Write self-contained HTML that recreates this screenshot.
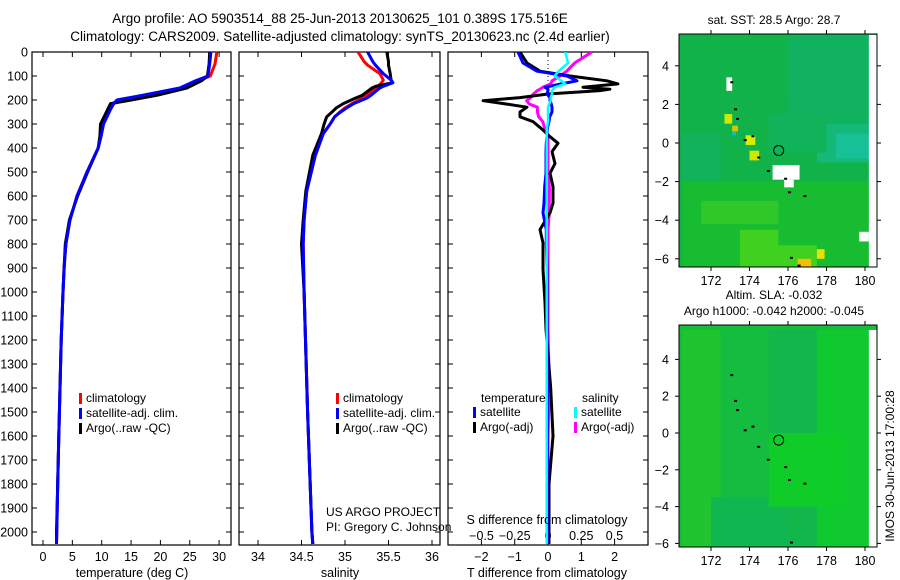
<!DOCTYPE html>
<html><head><meta charset="utf-8"><style>
body{margin:0;background:#fff}
svg{display:block;font-family:"Liberation Sans",sans-serif}
text{fill:#000}
</style></head><body>
<svg id="fig" width="900" height="580" viewBox="0 0 900 580" xmlns="http://www.w3.org/2000/svg">
<text x="340" y="23" font-size="13.5" text-anchor="middle">Argo profile: AO 5903514_88 25-Jun-2013 20130625_101 0.389S 175.516E</text>
<text x="340" y="41" font-size="13.5" text-anchor="middle">Climatology: CARS2009. Satellite-adjusted climatology: synTS_20130623.nc (2.4d earlier)</text>
<g id="plots"></g>
</svg>
<script>
// ---------- data ----------
const tDepth=[0,50,100,120,150,180,200,215,250,300,350,400,500,600,700,800,900,1000,1200,1400,1600,1800,2000,2050];
const tClim=[29.6,29.3,28.5,26.5,23.5,17.5,12.8,12.1,11.2,10.3,9.9,9.4,7.5,5.8,4.6,3.9,3.6,3.4,3.1,2.9,2.7,2.5,2.35,2.3];
const tSat=[28.6,28.4,28.1,26,23.3,17,12.6,12,11.3,10.3,9.9,9.4,7.5,5.8,4.6,3.9,3.6,3.4,3.1,2.9,2.7,2.5,2.35,2.3];
const tArgo=[28.4,28.3,28,27,24.5,19.5,15,11.5,10.8,9.8,9.7,9.4,7.6,5.9,4.5,3.8,3.6,3.4,3.1,2.9,2.7,2.5,2.3,2.3];

const sDepth=[0,40,55,90,117,128,143,150,180,192,215,233,250,270,300,340,430,580,700,800,1000,1500,2000,2050];
const sClim=[35.15,35.22,35.26,35.40,35.44,35.42,35.38,35.36,35.25,35.2,35.08,35.0,34.94,34.88,34.83,34.75,34.66,34.56,34.53,34.52,34.53,34.57,34.62,34.63];
const sSat=[35.26,35.32,35.35,35.44,35.53,35.55,35.44,35.4,35.3,35.25,35.1,35.02,34.95,34.88,34.83,34.75,34.66,34.56,34.53,34.52,34.53,34.57,34.62,34.63];
const sArgo=[35.48,35.5,35.5,35.52,35.53,35.55,35.35,35.31,35.2,35.12,34.98,34.9,34.85,34.79,34.76,34.73,34.63,34.55,34.52,34.50,34.53,34.57,34.62,34.63];

const dDepth=[0,46,80,100,120,133,147,155,161,175,190,203,217,230,250,270,290,325,353,380,415,465,505,560,630,670,740,795,905,1044,1155,1400,1600,1800,2050];
const dTArgo=[-0.84,-0.63,-0.24,0.66,1.77,2.1,1.05,1.86,1.56,0,-0.84,-1.95,-1.23,-0.63,-0.84,-0.84,-0.45,-0.15,0.06,0.3,0.12,0.21,0.06,0.15,0.15,0.06,-0.24,-0.15,-0.15,-0.09,-0.06,0.08,0.15,0.03,0.03];
const dTSat=[-0.9,-0.75,-0.33,0.57,0.87,0.4,-0.09,0,0,-0.03,0.06,0.06,0.1,0.12,0.12,0.05,0.03,-0.03,-0.03,-0.05,-0.06,-0.06,-0.06,-0.1,-0.12,-0.15,-0.05,-0.05,-0.03,-0.03,-0.03,-0.02,-0.02,-0.02,-0.02];
const dSArgo=[0.33,0.2,0.14,0.09,0.03,0.02,-0.04,-0.06,-0.08,-0.11,-0.13,-0.16,-0.14,-0.08,-0.08,-0.07,-0.04,-0.02,0,0,0,0,0,0.01,0.01,0.01,0,0,0,0,0,0.01,0,0,0];
const dSSat=[0.13,0.15,0.08,0.05,0.1,0.13,0.05,0.04,0.03,0.03,0.02,0.02,0.01,0,0,0,0,-0.01,-0.01,-0.01,-0.01,-0.01,-0.01,-0.01,-0.01,-0.01,-0.01,-0.01,-0.01,-0.01,-0.01,-0.01,-0.01,-0.01,-0.01];

const depthTicks=[0,100,200,300,400,500,600,700,800,900,1000,1100,1200,1300,1400,1500,1600,1700,1800,1900,2000];
const tTicks=[0,5,10,15,20,25,30];
const sTicks=[34,34.5,35,35.5,36];
const sTickLabels=["34","34.5","35","35.5","36"];
const dTTicks=[-2,-1,0,1,2];
const dSTicks=[-0.5,-0.25,0,0.25,0.5];
const dSTickLabels=["\u22120.5","\u22120.25","0","0.25","0.5"];
const dTTickLabels=["\u22122","\u22121","0","1","2"];
const lonTicks=[172,174,176,178,180];
const latTicks=[4,2,0,-2,-4,-6];
const latTickLabels=["4","2","0","\u22122","\u22124","\u22126"];

// ---------- helpers ----------
const NS="http://www.w3.org/2000/svg";
const root=document.getElementById('plots');
function mk(tag,attrs,parent){const e=document.createElementNS(NS,tag);for(const k in attrs)e.setAttribute(k,attrs[k]);(parent||root).appendChild(e);return e;}
function txt(x,y,s,size,anchor,parent){const t=mk('text',{x:x,y:y,'font-size':size||12,'text-anchor':anchor||'middle'},parent);t.textContent=s;return t;}
const yD=d=>52+d*0.24;
const P1={x0:32,x1:231},P2={x0:239,x1:440},P3={x0:448,x1:648},TOP=52,BOT=545;
const xT=t=>43+t*5.87, xS=s=>258+(s-34)*87, xDT=t=>548+t*33.3, xDS=s=>548+s*133;

function clip(id,p){const c=mk('clipPath',{id:id});mk('rect',{x:p.x0,y:TOP,width:p.x1-p.x0,height:BOT-TOP},c);}
function line(xs,ys,fx,color,w,cid,name){
  const pts=xs.map((v,i)=>fx(v).toFixed(1)+','+yD(ys[i]).toFixed(1)).join(' ');
  const l=mk('polyline',{points:pts,fill:'none',stroke:color,'stroke-width':w,'stroke-linejoin':'round','clip-path':'url(#'+cid+')'});
  
  
  return l;
}
function frame(p,name){
  const r=mk('rect',{x:p.x0,y:TOP,width:p.x1-p.x0,height:BOT-TOP,fill:'none',stroke:'#000','stroke-width':1.2});
  
  
  depthTicks.forEach(d=>{mk('line',{x1:p.x0,x2:p.x0+5,y1:yD(d),y2:yD(d),stroke:'#000'});mk('line',{x1:p.x1-5,x2:p.x1,y1:yD(d),y2:yD(d),stroke:'#000'});});
}
function xticks(vals,fx,labels,name){
  vals.forEach((v,i)=>{const x=fx(v);mk('line',{x1:x,x2:x,y1:TOP,y2:TOP+5,stroke:'#000'});mk('line',{x1:x,x2:x,y1:BOT-5,y2:BOT,stroke:'#000'});
    const t=txt(x,561,labels[i],12.5);
    
    });
}
mk('defs',{});
clip('c1',P1);clip('c2',P2);clip('c3',P3);

depthTicks.forEach(d=>{const t=txt(28,yD(d)+4.5,String(d),12.5,'end');
  
  });

// panel 1
frame(P1,'temperature-panel');
xticks(tTicks,xT,tTicks.map(String),'temperature-tick-label');
line(tClim,tDepth,xT,'#f00',3,'c1','temperature-climatology-line');
line(tArgo,tDepth,xT,'#000',3,'c1','temperature-argo-line');
line(tSat,tDepth,xT,'#00f',3,'c1','temperature-satellite-line');
txt(132,577,'temperature (deg C)',12.5);

// panel 2
frame(P2,'salinity-panel');
xticks(sTicks,xS,sTickLabels,'salinity-tick-label');
line(sClim,sDepth,xS,'#f00',3,'c2','salinity-climatology-line');
line(sArgo,sDepth,xS,'#000',3,'c2','salinity-argo-line');
line(sSat,sDepth,xS,'#00f',3,'c2','salinity-satellite-line');
txt(340,577,'salinity',12.5);

// panel 3
frame(P3,'difference-panel');
mk('line',{x1:548,x2:548,y1:TOP,y2:yD(200),stroke:'#000','stroke-dasharray':'1,3'});
dTTicks.forEach((v,i)=>{const x=xDT(v);mk('line',{x1:x,x2:x,y1:TOP,y2:TOP+5,stroke:'#000'});mk('line',{x1:x,x2:x,y1:BOT-5,y2:BOT,stroke:'#000'});
  const t=txt(x,561,dTTickLabels[i],12.5);
  
  });
dSTicks.forEach((v,i)=>{const t=txt(xDS(v),540,dSTickLabels[i],12.5);
  
  });
line(dSArgo,dDepth,xDS,'#f0f',3,'c3','s-difference-argo-line');
line(dTArgo,dDepth,xDT,'#000',3,'c3','t-difference-argo-line');
line(dTSat,dDepth,xDT,'#00f',3,'c3','t-difference-satellite-line');
line(dSSat,dDepth,xDS,'#0ff',2.5,'c3','s-difference-satellite-line');
txt(547,524,'S difference from climatology',12.5);
txt(547,577,'T difference from climatology',12.5);

function leg(x,y,color,label,name){const m=mk('rect',{x:x,y:y-9,width:3,height:11,fill:color});
  
  
  const t=txt(x+7,y,label,12,'start');
  
  }
leg(79,402,'#f00','climatology','legend-climatology');
leg(79,417,'#00f','satellite-adj. clim.','legend-satellite');
leg(79,432,'#000','Argo(..raw -QC)','legend-argo');
leg(336,402,'#f00','climatology','legend2-climatology');
leg(336,417,'#00f','satellite-adj. clim.','legend2-satellite');
leg(336,432,'#000','Argo(..raw -QC)','legend2-argo');
txt(481,402,'temperature',12,'start');
txt(582,402,'salinity',12,'start');
leg(473,416,'#00f','satellite','legend-t-satellite');
leg(473,431,'#000','Argo(-adj)','legend-t-argo');
leg(574,416,'#0ff','satellite','legend-s-satellite');
leg(574,431,'#f0f','Argo(-adj)','legend-s-argo');
txt(326,516,'US ARGO PROJECT',12,'start');
txt(326,531,'PI: Gregory C. Johnson',12,'start');

// ---------- maps ----------
const M1={x0:679,x1:877,y0:34,y1:267}, M2={x0:679,x1:877,y0:325,y1:547};
const xLon=l=>711+(l-172)*19.25;
function yLat(m,lat){return m===1?143-lat*19.3:433-lat*18.4;}
const sstPatches=[
 [172.5,5.6,176,2.5,'#12b44a'],[176,5.6,180.2,1,'#10b260'],[177.5,1,180.2,-1,'#14b878'],[178.5,0.5,180.2,-0.8,'#18c098'],
 [175,1.5,178,-0.5,'#10b25a'],[170.5,0.5,172.5,-2,'#12b25a'],[170.5,-2,180.2,-6.4,'#18bc30'],[171.5,-3,175.5,-4.2,'#30c828'],
 [173.5,-4.5,175.5,-6.4,'#40d020'],[175.5,-5.3,177.5,-6.4,'#40d020'],[176.5,-6,177.2,-6.4,'#f0c000'],[177.5,-5.5,177.9,-6,'#e8e000'],
 [173.8,0.4,174.3,-0.1,'#d8f000'],[173.1,0.9,173.4,0.6,'#e0c000'],[173.1,0.6,173.3,0.4,'#00c8c0'],[172.7,1.5,173.1,1.0,'#d0e800'],
 [174.0,-0.4,174.5,-0.9,'#d0e800'],[175.2,-1.15,176.6,-1.9,'#fff'],[175.8,-1.9,176.3,-2.3,'#fff'],[172.8,3.4,173.1,2.7,'#fff'],
 [180.2,5.6,181,-6.4,'#fff'],[179.7,-4.6,180.2,-5.1,'#fff']];
const slaPatches=[[170.5,5.6,172.5,-6.4,'#20c430'],[172.5,5.6,175,-6.4,'#14bc40'],[175,5.6,177.5,-6.4,'#12b64a'],[177.5,5.6,180.2,-6.4,'#10c830'],
 [172,-3.5,176,-6.4,'#10b650'],[175,0,179,-4,'#10cc28'],[180.2,5.6,181,-6.4,'#fff']];
function mapFrame(m,idx,bg,patches,name){
  const g=mk('g',{});
  
  
  const c=mk('clipPath',{id:'mc'+idx});mk('rect',{x:m.x0,y:m.y0,width:m.x1-m.x0,height:m.y1-m.y0},c);
  const inner=mk('g',{'clip-path':'url(#mc'+idx+')'},g);
  mk('rect',{x:m.x0,y:m.y0,width:m.x1-m.x0,height:m.y1-m.y0,fill:bg},inner);
  patches.forEach(p=>{const r=mk('rect',{x:xLon(p[0]),y:yLat(idx,p[1]),width:xLon(p[2])-xLon(p[0]),height:yLat(idx,p[3])-yLat(idx,p[1]),fill:p[4]},inner);
    
    });
  [[173,3.2],[173.2,1.8],[173.3,1.3],[173.7,0.2],[174.1,0.4],[174.4,-0.7],[174.9,-1.4],[175.8,-1.8],[176,-2.5],[176.8,-2.7],[176.1,-5.9],[176.5,-6.3]].forEach(p=>mk('rect',{x:xLon(p[0]),y:yLat(idx,p[1]),width:3,height:2,fill:'#000'},inner));
  mk('circle',{cx:xLon(175.516),cy:yLat(idx,-0.389),r:5,fill:'none',stroke:'#000','stroke-width':1},g);
  mk('rect',{x:m.x0,y:m.y0,width:m.x1-m.x0,height:m.y1-m.y0,fill:'none',stroke:'#000'},g);
  lonTicks.forEach(l=>{const x=xLon(l);mk('line',{x1:x,x2:x,y1:m.y0-4,y2:m.y0,stroke:'#000'},g);mk('line',{x1:x,x2:x,y1:m.y1,y2:m.y1+4,stroke:'#000'},g);
    const t=txt(x,m.y1+18,String(l),12.5,'middle',g);
    
    });
  latTicks.forEach((l,i)=>{const y=yLat(idx,l);mk('line',{x1:m.x0-4,x2:m.x0,y1:y,y2:y,stroke:'#000'},g);mk('line',{x1:m.x1,x2:m.x1+4,y1:y,y2:y,stroke:'#000'},g);
    const t=txt(m.x0-10,y+4.5,latTickLabels[i],12.5,'end',g);
    
    });
}
mapFrame(M1,1,'#12b24a',sstPatches,'sst-map');
mapFrame(M2,2,'#14be3a',slaPatches,'sla-map');
txt(774,24,'sat. SST: 28.5 Argo: 28.7',12);
txt(774,299,'Altim. SLA: -0.032',12);
txt(774,315,'Argo h1000: -0.042 h2000: -0.045',12);
const v=txt(0,0,'IMOS 30-Jun-2013 17:00:28',12,'middle');
v.setAttribute('transform','translate(894,466) rotate(-90)');


</script>
</body></html>
